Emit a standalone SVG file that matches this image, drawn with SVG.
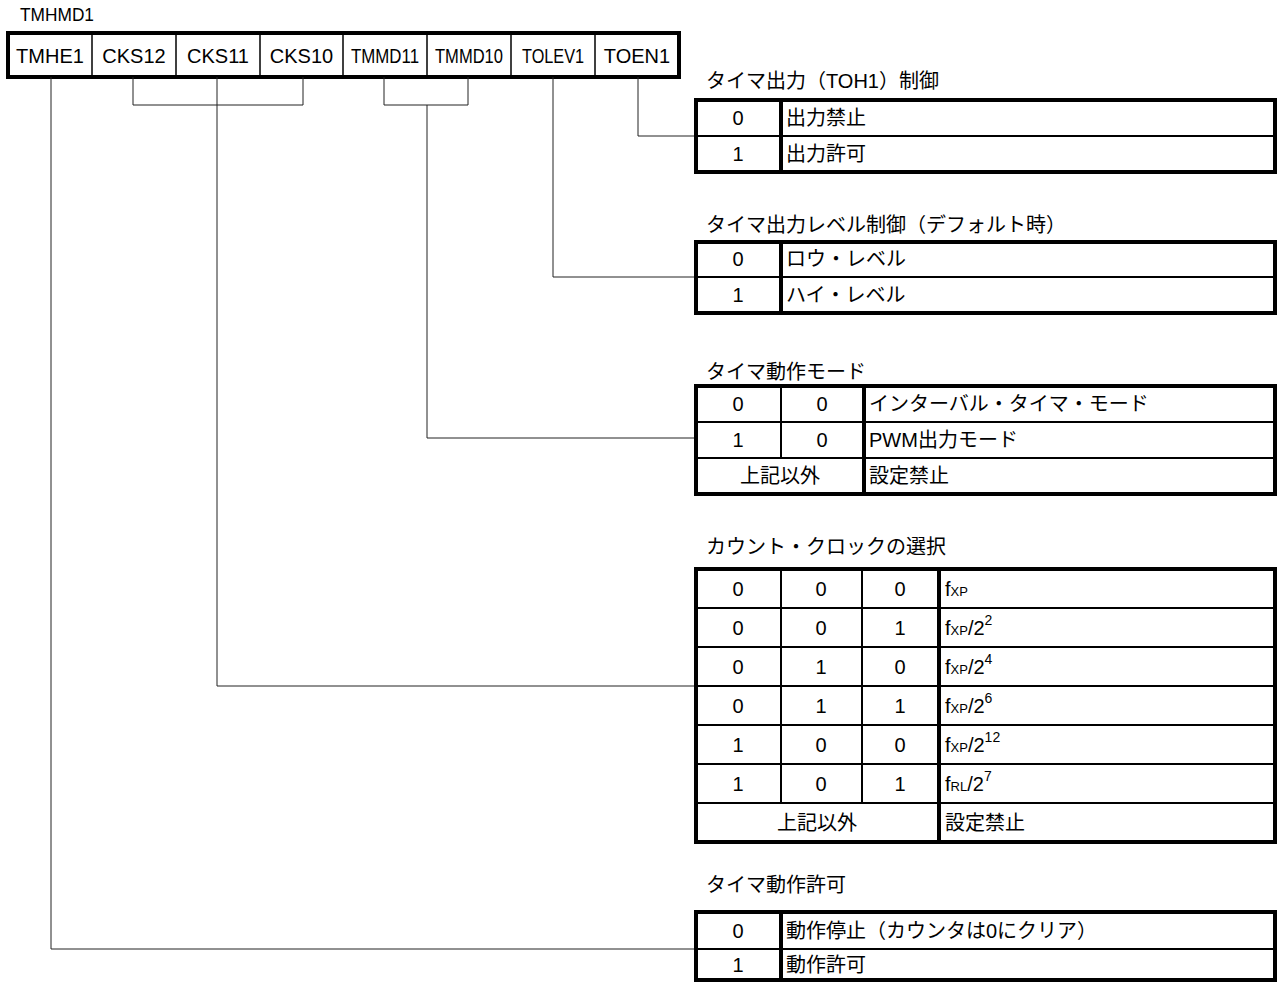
<svg xmlns="http://www.w3.org/2000/svg" width="1280" height="983" viewBox="0 0 1280 983">
<style>
text{font-family:"Liberation Sans","Noto Sans CJK JP",sans-serif;font-size:20px;fill:#000}
.c{text-anchor:middle}
.reg{font-size:20px}
.sm{font-size:13px}
.sup{font-size:14px}
.outer{fill:#fff;stroke:#000;stroke-width:4}
.div{stroke:#000;stroke-width:1.5}
.thin{stroke:#000;stroke-width:2}
.thick{stroke:#000;stroke-width:4}
.conn{fill:none;stroke:#222;stroke-width:1}
</style>
<rect width="1280" height="983" fill="#fff"/>

<g id="register">
<text x="20" y="21" style="font-size:19px" textLength="74" lengthAdjust="spacingAndGlyphs">TMHMD1</text>
<rect class="outer" x="8" y="33" width="671" height="44"/>
<line class="div" x1="92" y1="33" x2="92" y2="77"/>
<line class="div" x1="176" y1="33" x2="176" y2="77"/>
<line class="div" x1="260" y1="33" x2="260" y2="77"/>
<line class="div" x1="343" y1="33" x2="343" y2="77"/>
<line class="div" x1="427" y1="33" x2="427" y2="77"/>
<line class="div" x1="511" y1="33" x2="511" y2="77"/>
<line class="div" x1="595" y1="33" x2="595" y2="77"/>
<text class="c reg" x="50" y="63">TMHE1</text>
<text class="c reg" x="134" y="63">CKS12</text>
<text class="c reg" x="218" y="63">CKS11</text>
<text class="c reg" x="301.5" y="63">CKS10</text>
<text class="c reg" x="385" y="63" textLength="68" lengthAdjust="spacingAndGlyphs">TMMD11</text>
<text class="c reg" x="469" y="63" textLength="68" lengthAdjust="spacingAndGlyphs">TMMD10</text>
<text class="c reg" x="553" y="63" textLength="62" lengthAdjust="spacingAndGlyphs">TOLEV1</text>
<text class="c reg" x="637" y="63">TOEN1</text>
</g>

<g id="connectors">
<polyline class="conn" points="638,77 638,136 696,136"/>
<polyline class="conn" points="553,77 553,277 696,277"/>
<polyline class="conn" points="384,77 384,105 468,105 468,77"/>
<polyline class="conn" points="427,105 427,438 696,438"/>
<polyline class="conn" points="133,77 133,105 303,105 303,77"/>
<line class="conn" x1="217" y1="77" x2="217" y2="105"/>
<polyline class="conn" points="217,105 217,686 696,686"/>
<polyline class="conn" points="51,77 51,949 696,949"/>
</g>

<g id="toen1-table">
<text x="706" y="88">タイマ出力（TOH1）制御</text>
<rect class="outer" x="696" y="100" width="579" height="72"/>
<line class="thin" x1="696" y1="136" x2="1275" y2="136"/>
<line class="thick" x1="781" y1="100" x2="781" y2="172"/>
<text class="c" x="738" y="125">0</text>
<text x="786" y="125">出力禁止</text>
<text class="c" x="738" y="161">1</text>
<text x="786" y="161">出力許可</text>
</g>

<g id="tolev1-table">
<text x="706" y="232">タイマ出力レベル制御（デフォルト時）</text>
<rect class="outer" x="696" y="242" width="579" height="71"/>
<line class="thin" x1="696" y1="277" x2="1275" y2="277"/>
<line class="thick" x1="781" y1="242" x2="781" y2="313"/>
<text class="c" x="738" y="266">0</text>
<text x="786" y="266">ロウ・レベル</text>
<text class="c" x="738" y="302">1</text>
<text x="786" y="302">ハイ・レベル</text>
</g>

<g id="tmmd-table">
<text x="706" y="379">タイマ動作モード</text>
<rect class="outer" x="696" y="386" width="579" height="108"/>
<line class="thin" x1="696" y1="422" x2="1275" y2="422"/>
<line class="thin" x1="696" y1="458" x2="1275" y2="458"/>
<line class="thin" x1="781" y1="386" x2="781" y2="458"/>
<line class="thick" x1="864" y1="386" x2="864" y2="494"/>
<text class="c" x="738" y="411">0</text>
<text class="c" x="822" y="411">0</text>
<text x="869" y="411">インターバル・タイマ・モード</text>
<text class="c" x="738" y="447">1</text>
<text class="c" x="822" y="447">0</text>
<text x="869" y="447">PWM出力モード</text>
<text class="c" x="780" y="483">上記以外</text>
<text x="869" y="483">設定禁止</text>
</g>

<g id="cks-table">
<text x="706" y="554">カウント・クロックの選択</text>
<rect class="outer" x="696" y="569" width="579" height="273"/>
<line class="thin" x1="696" y1="608" x2="1275" y2="608"/>
<line class="thin" x1="696" y1="647" x2="1275" y2="647"/>
<line class="thin" x1="696" y1="686" x2="1275" y2="686"/>
<line class="thin" x1="696" y1="725" x2="1275" y2="725"/>
<line class="thin" x1="696" y1="764" x2="1275" y2="764"/>
<line class="thin" x1="696" y1="803" x2="1275" y2="803"/>
<line class="thin" x1="781" y1="569" x2="781" y2="803"/>
<line class="thin" x1="862" y1="569" x2="862" y2="803"/>
<line class="thick" x1="939" y1="569" x2="939" y2="842"/>
<text class="c" x="738" y="596">0</text><text class="c" x="821" y="596">0</text><text class="c" x="900" y="596">0</text>
<text x="945" y="596">f<tspan class="sm">XP</tspan></text>
<text class="c" x="738" y="635">0</text><text class="c" x="821" y="635">0</text><text class="c" x="900" y="635">1</text>
<text x="945" y="635">f<tspan class="sm">XP</tspan>/2<tspan class="sup" dy="-10">2</tspan></text>
<text class="c" x="738" y="674">0</text><text class="c" x="821" y="674">1</text><text class="c" x="900" y="674">0</text>
<text x="945" y="674">f<tspan class="sm">XP</tspan>/2<tspan class="sup" dy="-10">4</tspan></text>
<text class="c" x="738" y="713">0</text><text class="c" x="821" y="713">1</text><text class="c" x="900" y="713">1</text>
<text x="945" y="713">f<tspan class="sm">XP</tspan>/2<tspan class="sup" dy="-10">6</tspan></text>
<text class="c" x="738" y="752">1</text><text class="c" x="821" y="752">0</text><text class="c" x="900" y="752">0</text>
<text x="945" y="752">f<tspan class="sm">XP</tspan>/2<tspan class="sup" dy="-10">12</tspan></text>
<text class="c" x="738" y="791">1</text><text class="c" x="821" y="791">0</text><text class="c" x="900" y="791">1</text>
<text x="945" y="791">f<tspan class="sm">RL</tspan>/2<tspan class="sup" dy="-10">7</tspan></text>
<text class="c" x="817" y="830">上記以外</text>
<text x="945" y="830">設定禁止</text>
</g>

<g id="tmhe1-table">
<text x="706" y="892">タイマ動作許可</text>
<rect class="outer" x="696" y="912" width="579" height="68"/>
<line class="thin" x1="696" y1="949" x2="1275" y2="949"/>
<line class="thick" x1="781" y1="912" x2="781" y2="980"/>
<text class="c" x="738" y="938">0</text>
<text x="786" y="938">動作停止（カウンタは0にクリア）</text>
<text class="c" x="738" y="972">1</text>
<text x="786" y="972">動作許可</text>
</g>
</svg>
